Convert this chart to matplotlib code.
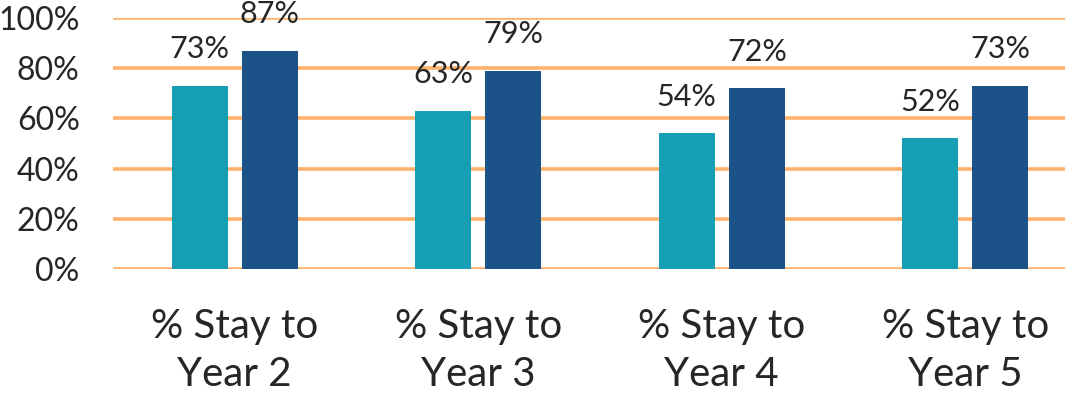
import matplotlib
matplotlib.use("Agg")
import matplotlib.pyplot as plt
import numpy as np

categories = ["% Stay to\nYear 2", "% Stay to\nYear 3", "% Stay to\nYear 4", "% Stay to\nYear 5"]
series_a = [73, 63, 54, 52]
series_b = [87, 79, 72, 73]
yticks = [0, 20, 40, 60, 80, 100]

plt.rcParams['font.family'] = ['Lato', 'DejaVu Sans']
text_color = '#262626'

fig = plt.figure(figsize=(10.65, 3.93), dpi=100)
ax = fig.add_axes([113 / 1065, 124 / 393, 974 / 1065, 251 / 393])

x = np.arange(len(categories))
w = 0.23
off = 0.144
bars_a = ax.bar(x - off, series_a, w, color='#169FB4', zorder=3)
bars_b = ax.bar(x + off, series_b, w, color='#1B5287', zorder=3)

for bars, vals in [(bars_a, series_a), (bars_b, series_b)]:
    for b, v in zip(bars, vals):
        ax.annotate(f"{v}%", (b.get_x() + b.get_width() / 2, v),
                    xytext=(0, 20), textcoords='offset points',
                    ha='center', va='baseline', fontsize=22, color=text_color)

ax.set_xlim(-0.5, 3.5)
ax.set_ylim(0, 100)
ax.set_yticks(yticks)
ax.set_yticklabels([f"{t}%" for t in yticks], fontsize=23, color=text_color)
ax.set_xticks(x)
ax.set_xticklabels(categories, fontsize=29, color=text_color, linespacing=1.38)
ax.tick_params(axis='y', length=0, pad=24)
ax.tick_params(axis='x', length=0, pad=28)
ax.grid(axis='y', color='#FFB26B', linewidth=2.6, zorder=0)
ax.set_axisbelow(True)
for s in ax.spines.values():
    s.set_visible(False)

fig.savefig("out.png", dpi=100)
